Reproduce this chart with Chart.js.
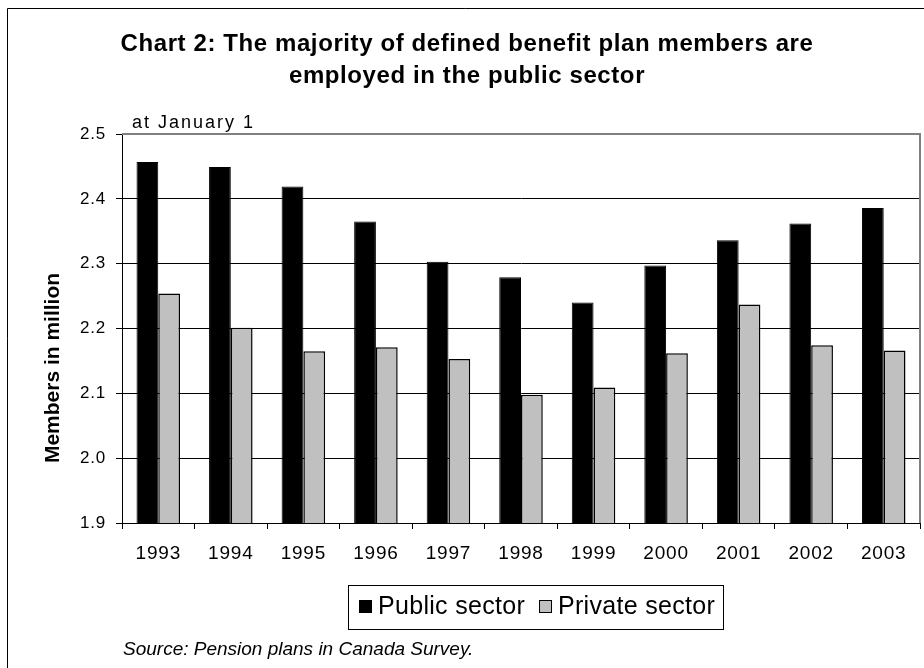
<!DOCTYPE html>
<html lang="en">
<head>
    <meta charset="UTF-8">
    <title>Defined benefit plan members</title>
    <script src="https://cdn.jsdelivr.net/npm/chart.js"></script>
    <style>
        body { margin: 0; background: #fff; }
    </style>
</head>
<body>
    <canvas id="dbChart" width="924" height="668"></canvas>
    <script>
        // values (millions of members, at January 1)
        const years = ['1993', '1994', '1995', '1996', '1997', '1998', '1999', '2000', '2001', '2002', '2003'];
        const publicSector = [2.457, 2.449, 2.419, 2.365, 2.303, 2.279, 2.240, 2.297, 2.336, 2.362, 2.386];
        const privateSector = [2.254, 2.201, 2.165, 2.171, 2.153, 2.098, 2.109, 2.162, 2.237, 2.174, 2.166];

        const titleLines = ['Chart 2: The majority of defined benefit plan members are', 'employed in the public sector'];
        const subTitle = 'at January 1';
        const yTitle = 'Members in million';
        const sourceNote = 'Source: Pension plans in Canada Survey.';

        const FONT = "'Liberation Sans', Arial, sans-serif";
        Chart.defaults.font.family = FONT;
        Chart.defaults.color = '#000';

        // titles, frame, plot border, boxed legend and source line
        const extras = {
            id: 'extras',
            beforeDraw(chart) {
                chart.ctx.letterSpacing = '0.8px';
            },
            afterDraw(chart) {
                const ctx = chart.ctx;
                const area = chart.chartArea;
                ctx.save();
                ctx.letterSpacing = '0px';

                // outer frame (left and top edges are visible)
                ctx.strokeStyle = '#000';
                ctx.lineWidth = 1;
                ctx.beginPath();
                ctx.moveTo(7.5, 668);
                ctx.lineTo(7.5, 8.5);
                ctx.lineTo(924, 8.5);
                ctx.stroke();

                // plot area border, top and right
                ctx.strokeStyle = '#808080';
                ctx.lineWidth = 2;
                ctx.beginPath();
                ctx.moveTo(area.left, area.top);
                ctx.lineTo(area.right, area.top);
                ctx.lineTo(area.right, area.bottom);
                ctx.stroke();

                // title
                ctx.fillStyle = '#000';
                ctx.textBaseline = 'alphabetic';
                ctx.textAlign = 'center';
                ctx.font = 'bold 24px ' + FONT;
                ctx.letterSpacing = '0.6px';
                ctx.fillText(titleLines[0], 467, 51);
                ctx.fillText(titleLines[1], 467, 83);

                ctx.textAlign = 'left';
                ctx.font = '18px ' + FONT;
                ctx.letterSpacing = '2px';
                ctx.fillText(subTitle, 132, 128);

                // y axis title
                ctx.save();
                ctx.translate(53, 368);
                ctx.rotate(-Math.PI / 2);
                ctx.textAlign = 'center';
                ctx.textBaseline = 'middle';
                ctx.font = 'bold 21px ' + FONT;
                ctx.letterSpacing = '0px';
                ctx.fillText(yTitle, 0, 0);
                ctx.restore();

                // legend
                ctx.font = '25px ' + FONT;
                ctx.letterSpacing = '0.3px';
                const sets = chart.data.datasets;
                const widths = sets.map(d => ctx.measureText(d.label).width);
                const sq = 13;
                let boxW = 11;
                widths.forEach((w, i) => { boxW += sq + 6 + w + (i < widths.length - 1 ? 14 : 8); });
                const boxL = 348.5;
                ctx.strokeStyle = '#000';
                ctx.lineWidth = 1;
                ctx.strokeRect(boxL, 585.5, Math.round(boxW), 44);
                let x = boxL + 10.5;
                sets.forEach((d, i) => {
                    ctx.fillStyle = d.backgroundColor;
                    ctx.fillRect(x, 600, sq, sq);
                    ctx.strokeStyle = '#000';
                    ctx.lineWidth = 1;
                    ctx.strokeRect(x + 0.5, 600.5, sq - 1, sq - 1);
                    x += sq + 6;
                    ctx.fillStyle = '#000';
                    ctx.fillText(d.label, x, 614);
                    x += widths[i] + 14;
                });

                // source
                ctx.font = 'italic 19px ' + FONT;
                ctx.letterSpacing = '0px';
                ctx.fillText(sourceNote, 123, 655);
                ctx.restore();
            }
        };

        const ctx = document.getElementById('dbChart').getContext('2d');
        new Chart(ctx, {
            type: 'bar',
            data: {
                labels: years,
                datasets: [
                    {
                        label: 'Public sector',
                        data: publicSector,
                        backgroundColor: '#000000',
                        borderColor: '#000000',
                        borderWidth: 1
                    },
                    {
                        label: 'Private sector',
                        data: privateSector,
                        backgroundColor: '#c0c0c0',
                        borderColor: '#000000',
                        borderWidth: 1.5
                    }
                ]
            },
            options: {
                responsive: false,
                animation: false,
                layout: { padding: { top: 134, right: 4, bottom: 0, left: 0 } },
                datasets: {
                    bar: { categoryPercentage: 0.6, barPercentage: 1.0 }
                },
                scales: {
                    x: {
                        afterFit: s => { s.height = 145; },
                        grid: { drawOnChartArea: false, color: '#000', tickLength: 6, offset: true },
                        border: { color: '#000', width: 1 },
                        ticks: { font: { size: 19 }, padding: 13, color: '#000', maxRotation: 0 }
                    },
                    y: {
                        min: 1.9,
                        max: 2.5,
                        afterFit: s => { s.width = 122; },
                        grid: { color: '#000', lineWidth: 1, tickLength: 6 },
                        border: { color: '#000', width: 1 },
                        ticks: {
                            stepSize: 0.1,
                            font: { size: 17 },
                            padding: 10,
                            color: '#000',
                            callback: v => Number(v).toFixed(1)
                        }
                    }
                },
                plugins: {
                    legend: { display: false },
                    tooltip: { enabled: false }
                }
            },
            plugins: [extras]
        });
    </script>
</body>
</html>
